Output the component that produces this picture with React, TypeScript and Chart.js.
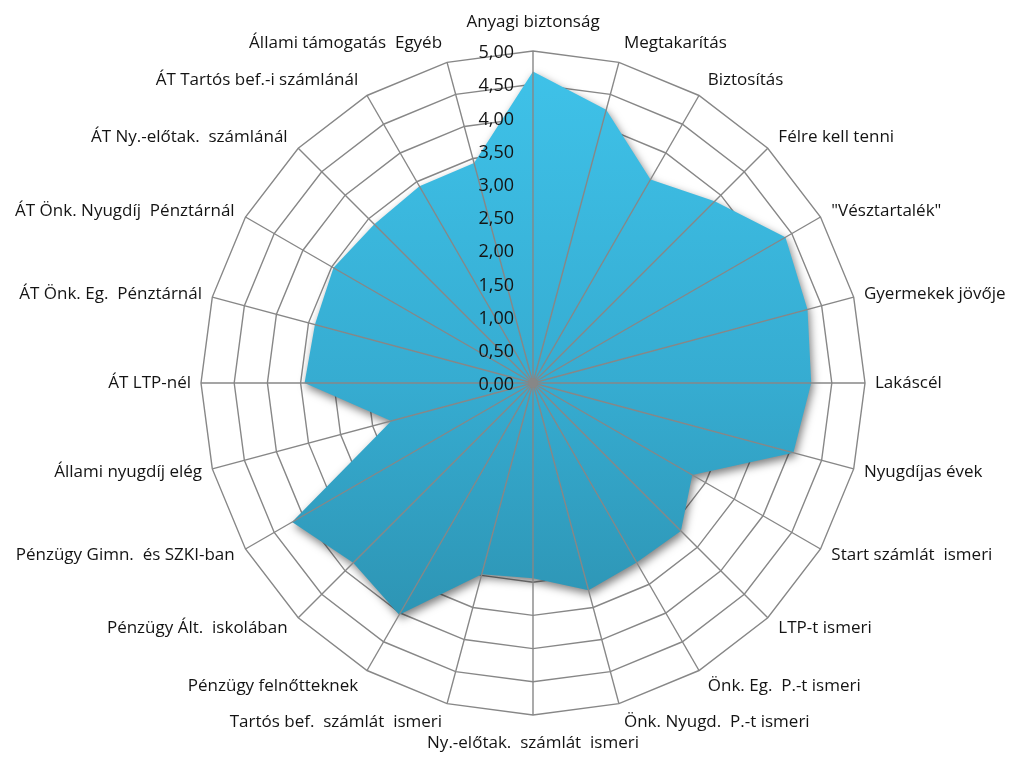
import React, { useEffect, useRef } from "react";
import { Chart, registerables } from "chart.js";

Chart.register(...registerables);

const categories: string[] = [
  "Anyagi biztonság",
  "Megtakarítás",
  "Biztosítás",
  "Félre kell tenni",
  "\"Vésztartalék\"",
  "Gyermekek jövője",
  "Lakáscél",
  "Nyugdíjas évek",
  "Start számlát  ismeri",
  "LTP-t ismeri",
  "Önk. Eg.  P.-t ismeri",
  "Önk. Nyugd.  P.-t ismeri",
  "Ny.-előtak.  számlát  ismeri",
  "Tartós bef.  számlát  ismeri",
  "Pénzügy felnőtteknek",
  "Pénzügy Ált.  iskolában",
  "Pénzügy Gimn.  és SZKI-ban",
  "Állami nyugdíj elég",
  "ÁT LTP-nél",
  "ÁT Önk. Eg.  Pénztárnál",
  "ÁT Önk. Nyugdíj  Pénztárnál",
  "ÁT Ny.-előtak.  számlánál",
  "ÁT Tartós bef.-i számlánál",
  "Állami támogatás  Egyéb",
];

const values: number[] = [
  4.69, 4.26, 3.54, 3.87, 4.39, 4.28, 4.19, 4.06, 2.77, 3.15, 3.12, 3.23,
  2.94, 2.98, 4.03, 3.83, 4.19, 2.21, 3.44, 3.4, 3.47, 3.38, 3.42, 3.43,
];

const tickValues: number[] = [0, 0.5, 1, 1.5, 2, 2.5, 3, 3.5, 4, 4.5, 5];
const tickLabels: string[] = [
  "0,00", "0,50", "1,00", "1,50", "2,00", "2,50", "3,00", "3,50", "4,00", "4,50", "5,00",
];

const FONT_FAMILY = "'Open Sans', Lato, sans-serif";
const GRID_COLOR = "#878787";
const TEXT_COLOR = "#141414";

export default function App() {
  const ref = useRef<HTMLCanvasElement | null>(null);

  useEffect(() => {
    const canvas = ref.current;
    if (!canvas) return;

    const overlay = {
      id: "excelRadarOverlay",
      beforeDatasetsDraw(chart: any) {
        const ctx = chart.ctx;
        ctx.save();
        ctx.shadowColor = "rgba(0,0,0,0.5)";
        ctx.shadowBlur = 8;
        ctx.shadowOffsetX = 2;
        ctx.shadowOffsetY = 4;
      },
      afterDatasetsDraw(chart: any) {
        const ctx = chart.ctx;
        ctx.restore();
        const scale: any = chart.scales.r;
        const n = categories.length;
        const cx = scale.xCenter;
        const cy = scale.yCenter;
        ctx.save();
        // spokes over the fill
        ctx.strokeStyle = GRID_COLOR;
        ctx.lineWidth = 1.4;
        for (let i = 0; i < n; i++) {
          const p = scale.getPointPositionForValue(i, tickValues[tickValues.length - 1]);
          ctx.beginPath();
          ctx.moveTo(cx, cy);
          ctx.lineTo(p.x, p.y);
          ctx.stroke();
        }
        ctx.fillStyle = GRID_COLOR;
        ctx.beginPath();
        ctx.arc(cx, cy, 5, 0, Math.PI * 2);
        ctx.fill();

        // tick labels
        ctx.fillStyle = TEXT_COLOR;
        ctx.font = `18px ${FONT_FAMILY}`;
        ctx.textAlign = "right";
        ctx.textBaseline = "middle";
        tickValues.forEach((v, k) => {
          const p = scale.getPointPositionForValue(0, v);
          ctx.fillText(tickLabels[k], p.x - 19, p.y + 2);
        });

        // point labels
        ctx.font = `17px ${FONT_FAMILY}`;
        for (let i = 0; i < n; i++) {
          const deg = (360 / n) * i;
          const s = Math.sin((deg * Math.PI) / 180);
          const d = 20 - 10 * s * s;
          const p = scale.getPointPosition(i, scale.drawingArea + d);
          if (deg === 0) {
            ctx.textAlign = "center";
            ctx.textBaseline = "bottom";
          } else if (deg === 180) {
            ctx.textAlign = "center";
            ctx.textBaseline = "top";
          } else if (deg < 180) {
            ctx.textAlign = "left";
            ctx.textBaseline = "middle";
          } else {
            ctx.textAlign = "right";
            ctx.textBaseline = "middle";
          }
          ctx.fillText(categories[i], p.x, p.y);
        }
        ctx.restore();
      },
    };

    const chart = new Chart(canvas, {
      type: "radar",
      data: {
        labels: categories,
        datasets: [
          {
            label: "Átlag",
            data: values,
            fill: true,
            backgroundColor: (context: any) => {
              const c = context.chart;
              const area = c.chartArea;
              if (!area) return "#37b0d6";
              const g = c.ctx.createLinearGradient(0, area.top, 0, area.bottom);
              g.addColorStop(0, "#3fc3ea");
              g.addColorStop(0.5, "#36acd1");
              g.addColorStop(1, "#2a8ba8");
              return g;
            },
            borderColor: "rgba(0,0,0,0)",
            borderWidth: 0,
            pointRadius: 0,
            pointHoverRadius: 0,
          },
        ],
      },
      options: {
        responsive: false,
        animation: false,
        layout: { padding: { left: 201, top: 51, right: 152, bottom: 43 } },
        plugins: {
          legend: { display: false },
          tooltip: { enabled: false },
        },
        scales: {
          r: {
            min: 0,
            max: 5,
            ticks: { display: false, stepSize: 0.5 },
            grid: { color: GRID_COLOR, lineWidth: 1.4, circular: false },
            angleLines: { display: false },
            pointLabels: { display: false },
          },
        },
      },
      plugins: [overlay],
    } as any);

    return () => chart.destroy();
  }, []);

  return (
    <div style={{ position: "absolute", left: 0, top: 0, width: 1017, height: 758, background: "#fff" }}>
      <canvas ref={ref} width={1017} height={758} style={{ display: "block" }} />
    </div>
  );
}
